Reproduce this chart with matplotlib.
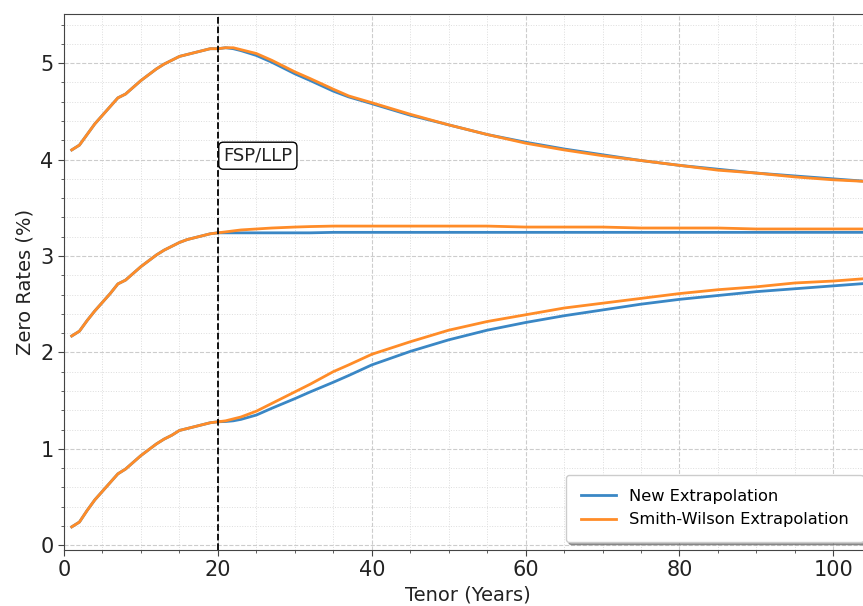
import matplotlib
matplotlib.use("Agg")
import matplotlib.pyplot as plt
from matplotlib.ticker import MultipleLocator

# short end (shared by both methods), tenors 1..20
short_tenor = list(range(1, 21))
low_short = [0.19, 0.24, 0.36, 0.47, 0.56, 0.65, 0.74, 0.79, 0.86, 0.93,
             0.99, 1.05, 1.10, 1.14, 1.19, 1.21, 1.23, 1.25, 1.27, 1.28]
mid_short = [2.17, 2.22, 2.33, 2.43, 2.52, 2.61, 2.71, 2.75, 2.82, 2.89,
             2.95, 3.01, 3.06, 3.10, 3.14, 3.17, 3.19, 3.21, 3.23, 3.24]
top_short = [4.10, 4.15, 4.26, 4.37, 4.46, 4.55, 4.64, 4.68, 4.75, 4.82,
             4.88, 4.94, 4.99, 5.03, 5.07, 5.09, 5.11, 5.13, 5.15, 5.15]

# extrapolated part
long_tenor = [20, 21, 22, 23, 25, 27, 30, 32, 35, 37, 40, 45, 50, 55, 60, 65,
              70, 75, 80, 85, 90, 95, 100, 105]
top_new = [5.15, 5.16, 5.15, 5.13, 5.08, 5.01, 4.89, 4.82, 4.71, 4.65, 4.58,
           4.46, 4.36, 4.26, 4.18, 4.11, 4.05, 3.99, 3.94, 3.90, 3.86, 3.83,
           3.80, 3.77]
top_sw = [5.15, 5.16, 5.16, 5.14, 5.10, 5.03, 4.91, 4.84, 4.73, 4.66, 4.59,
          4.47, 4.36, 4.26, 4.17, 4.10, 4.04, 3.99, 3.94, 3.89, 3.86, 3.82,
          3.79, 3.77]
mid_new = [3.24, 3.24, 3.24, 3.24, 3.24, 3.24, 3.24, 3.24, 3.245, 3.245,
           3.245, 3.245, 3.245, 3.245, 3.245, 3.245, 3.245, 3.245, 3.245,
           3.245, 3.245, 3.245, 3.245, 3.245]
mid_sw = [3.24, 3.25, 3.26, 3.27, 3.28, 3.29, 3.30, 3.305, 3.31, 3.31, 3.31,
          3.31, 3.31, 3.31, 3.30, 3.30, 3.30, 3.29, 3.29, 3.29, 3.28, 3.28,
          3.28, 3.28]
low_new = [1.28, 1.283, 1.29, 1.305, 1.35, 1.42, 1.52, 1.59, 1.69, 1.76, 1.87,
           2.01, 2.13, 2.23, 2.31, 2.38, 2.44, 2.50, 2.55, 2.59, 2.63, 2.66,
           2.69, 2.72]
low_sw = [1.28, 1.29, 1.31, 1.33, 1.39, 1.47, 1.59, 1.67, 1.80, 1.87, 1.98,
          2.11, 2.23, 2.32, 2.39, 2.46, 2.51, 2.56, 2.61, 2.65, 2.68, 2.72,
          2.74, 2.77]

fsp = 20

fig = plt.figure(figsize=(8.63, 6.06), dpi=100)
# axes runs off the right edge like the reference crop
ax = fig.add_axes([0.0742, 0.0924, 0.936, 0.8845])

blue = "#3a87c5"
orange = "#ff8c28"
lw = 2.0

curves = [(low_short, low_new, low_sw), (mid_short, mid_new, mid_sw),
          (top_short, top_new, top_sw)]
for i, (short, new, sw) in enumerate(curves):
    ax.plot(short_tenor + long_tenor[1:], short + new[1:], color=blue, lw=lw,
            label="New Extrapolation" if i == 0 else None)
    ax.plot(short_tenor + long_tenor[1:], short + sw[1:], color=orange, lw=lw,
            label="Smith-Wilson Extrapolation" if i == 0 else None)

ax.axvline(fsp, color="black", linestyle="--", lw=1.3)
ax.text(fsp + 0.7, 4.04, "FSP/LLP", fontsize=13, va="center", ha="left",
        color="#222222",
        bbox=dict(boxstyle="round,pad=0.25", fc="white", ec="black", lw=1))

ax.set_xlim(0, 105)
ax.set_ylim(-0.05, 5.51)
ax.xaxis.set_major_locator(MultipleLocator(20))
ax.xaxis.set_minor_locator(MultipleLocator(5))
ax.yaxis.set_major_locator(MultipleLocator(1))
ax.yaxis.set_minor_locator(MultipleLocator(0.2))

ax.grid(which="major", linestyle="--", color="#cccccc", lw=0.8)
ax.grid(which="minor", linestyle=":", color="#dddddd", lw=0.7)
ax.set_axisbelow(True)

ax.tick_params(which="major", labelsize=15, length=4, color="#444444",
               labelcolor="#222222")
ax.tick_params(which="minor", length=2.5, color="#444444")
for s in ax.spines.values():
    s.set_color("#444444")

ax.set_xlabel("Tenor (Years)", fontsize=14, color="#222222")
ax.set_ylabel("Zero Rates (%)", fontsize=14, color="#222222")

ax.legend(loc="lower right", fontsize=11.7, shadow=True, borderpad=0.9,
          handlelength=2.2)

fig.savefig("out.png", dpi=100)
